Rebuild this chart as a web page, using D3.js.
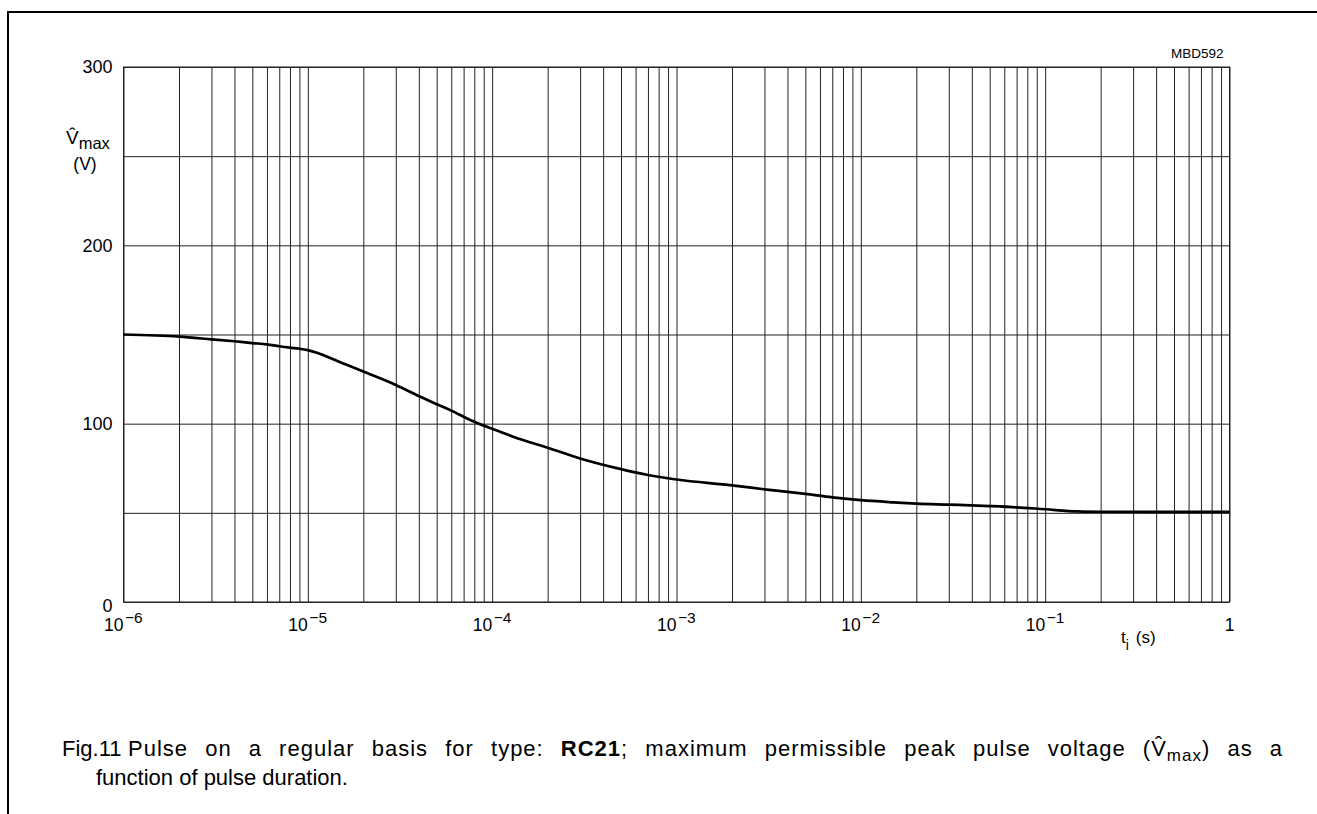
<!DOCTYPE html>
<html>
<head>
<meta charset="utf-8">
<script src="https://cdn.jsdelivr.net/npm/d3@7"></script>
<style>
  body { margin: 0; background: #fff; }
  text { font-family: "Liberation Sans", Arial, Helvetica, sans-serif; fill: #000; }
</style>
</head>
<body>
<svg id="chart" width="1317" height="814"></svg>
<script>
// curve (t in s, V in volts)
var pulseDuration = [1e-6, 2e-6, 3e-6, 4e-6, 5e-6, 6e-6, 7e-6, 8e-6, 9e-6, 1e-5,
  1.5e-5, 2e-5, 3e-5, 4e-5, 5e-5, 6e-5, 7e-5, 8e-5, 9e-5, 1e-4,
  1.3e-4, 2e-4, 3e-4, 5e-4, 7e-4, 1e-3, 2e-3, 3e-3, 5e-3, 7e-3,
  1e-2, 1.5e-2, 2e-2, 3e-2, 5e-2, 7e-2, 1e-1, 1.5e-1, 2e-1, 5e-1, 1];
var peakVoltage = [150, 148.8, 147.3, 146.2, 145.2, 144.5, 143.4, 142.6, 142, 141.2,
  134.5, 129.2, 121.7, 115.5, 110.9, 107.3, 103.9, 101.1, 98.9, 97.2,
  92.7, 86.5, 80.5, 74.5, 71.2, 68.7, 65.4, 63.2, 60.6, 58.7,
  57.1, 55.9, 55.2, 54.6, 53.8, 53.1, 52, 50.8, 50.6, 50.5, 50.5];

var decadeExponents = [-6, -5, -4, -3, -2, -1, 0];
var voltageGrid = [0, 50, 100, 150, 200, 250, 300];
var voltageLabels = [0, 100, 200, 300];

var margin = { top: 67, left: 123.5 };
var chartWidth = 1106;
var chartHeight = 535;

var svg = d3.select("#chart");

// page frame
svg.append("path")
  .attr("d", "M8,814 L8,12 L1317,12")
  .attr("fill", "none")
  .attr("stroke", "#000")
  .attr("stroke-width", 2);

var chartGroup = svg.append("g").attr("transform", `translate(${margin.left}, ${margin.top})`);

var xScale = d3.scaleLog().domain([1e-6, 1]).range([0, chartWidth]);
var yScale = d3.scaleLinear().domain([0, 300]).range([chartHeight, 0]);

// every 1..9 x 10^k line
var gridTicks = [];
decadeExponents.forEach(function(e) {
  for (var m = 1; m <= 9; m++) {
    var v = m * Math.pow(10, e);
    if (v <= 1) gridTicks.push(v);
  }
});

var bottomGrid = d3.axisBottom(xScale).tickValues(gridTicks).tickSize(-chartHeight).tickFormat("");
var leftGrid = d3.axisLeft(yScale).tickValues(voltageGrid).tickSize(-chartWidth).tickFormat("");

chartGroup.append("g").attr("id", "x-grid")
  .attr("transform", `translate(0, ${chartHeight})`)
  .call(bottomGrid);
chartGroup.append("g").attr("id", "y-grid").call(leftGrid);

chartGroup.selectAll(".domain").remove();
chartGroup.selectAll(".tick line")
  .attr("stroke", "#222")
  .attr("stroke-width", 1);

// border of the plot
chartGroup.append("rect")
  .attr("width", chartWidth)
  .attr("height", chartHeight)
  .attr("fill", "none")
  .attr("stroke", "#222")
  .attr("stroke-width", 1);

// y tick labels
chartGroup.selectAll(".ylabel").data(voltageLabels).enter()
  .append("text")
  .classed("ylabel", true)
  .attr("x", -11)
  .attr("y", d => yScale(d) + (d === 0 ? 4 : 0))
  .attr("dy", "0.36em")
  .attr("text-anchor", "end")
  .style("font-size", "18px")
  .text(d => d);

// x tick labels: 10 with superscript exponent, and 1
var xLabels = chartGroup.selectAll(".xlabel").data(decadeExponents).enter()
  .append("g")
  .classed("xlabel", true)
  .attr("transform", d => `translate(${xScale(Math.pow(10, d))}, ${chartHeight + 29})`);

xLabels.filter(d => d !== 0).append("text")
  .attr("text-anchor", "end")
  .style("font-size", "17.5px")
  .text("10");
xLabels.filter(d => d !== 0).append("text")
  .attr("x", 1.5)
  .attr("y", -8)
  .style("font-size", "15.5px")
  .text(d => "\u2212" + (-d));
xLabels.filter(d => d === 0).append("text")
  .attr("text-anchor", "middle")
  .style("font-size", "17.5px")
  .text("1");

// axis titles
var xTitle = chartGroup.append("text")
  .attr("x", 997.5)
  .attr("y", chartHeight + 41)
  .style("font-size", "17px");
xTitle.append("tspan").text("t");
xTitle.append("tspan").attr("dy", 7).style("font-size", "14px").text("i");
xTitle.append("tspan").attr("dx", 7).attr("dy", -7).text("(s)");

var yTitle = chartGroup.append("text")
  .attr("x", -57.5)
  .attr("y", 77)
  .style("font-size", "19px");
yTitle.append("tspan").text("V\u0302");
yTitle.append("tspan").attr("dy", 5).style("font-size", "16.5px").text("max");
chartGroup.append("text")
  .attr("x", -38.5)
  .attr("y", 103)
  .attr("text-anchor", "middle")
  .style("font-size", "17.5px")
  .text("(V)");

chartGroup.append("text")
  .attr("x", chartWidth - 6)
  .attr("y", -9)
  .attr("text-anchor", "end")
  .style("font-size", "13.5px")
  .text("MBD592");

// the curve
var curve = d3.line()
  .x((d, i) => xScale(pulseDuration[i]))
  .y(d => yScale(d))
  .curve(d3.curveMonotoneX);

chartGroup.append("path")
  .datum(peakVoltage)
  .attr("d", curve)
  .attr("fill", "none")
  .attr("stroke", "#000")
  .attr("stroke-width", 2.7)
  .attr("stroke-linejoin", "round");

// caption, first line runs out to the right edge of the text column
svg.append("text")
  .attr("x", 62)
  .attr("y", 756)
  .style("font-size", "22px")
  .text("Fig.11");

var caption = svg.append("text")
  .attr("x", 128)
  .attr("y", 756)
  .style("font-size", "22px")
  .style("letter-spacing", "1px");
caption.append("tspan").text("Pulse on a regular basis for type: ");
caption.append("tspan").style("font-weight", "bold").text("RC21");
caption.append("tspan").text("; maximum permissible peak pulse voltage (V\u0302");
caption.append("tspan").attr("dy", 5).style("font-size", "17px").text("max");
caption.append("tspan").attr("dy", -5).text(") as a");

var naturalWidth = caption.node().getComputedTextLength();
var spaces = caption.text().split(" ").length - 1;
caption.style("word-spacing", Math.max(0, (1283 - 128 - naturalWidth) / spaces) + "px");

svg.append("text")
  .attr("x", 96)
  .attr("y", 785)
  .style("font-size", "22px")
  .text("function of pulse duration.");
</script>
</body>
</html>
